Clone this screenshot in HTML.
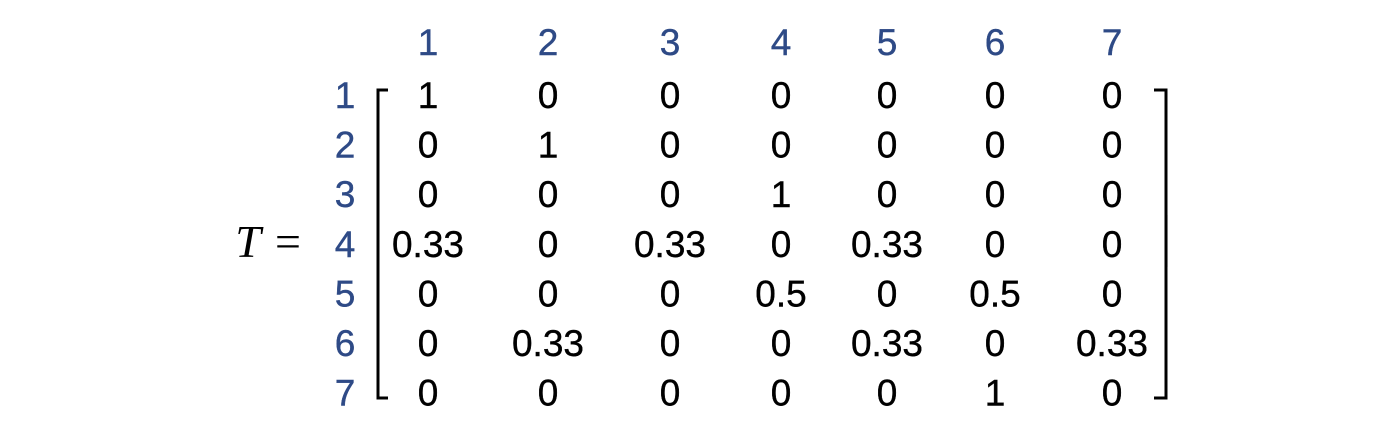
<!DOCTYPE html>
<html><head><meta charset="utf-8"><style>
html,body{margin:0;padding:0;background:#fff;width:1400px;height:440px;overflow:hidden}
svg{display:block}
text{font-family:"Liberation Sans",sans-serif;font-size:37px}
</style></head><body>
<svg id="chart" width="1400" height="440" viewBox="0 0 1400 440" xmlns="http://www.w3.org/2000/svg">
<text x="248" y="257" text-anchor="middle" style="font-family:'Liberation Serif',serif;font-style:italic;font-size:46px">T</text>
<text x="288" y="257" text-anchor="middle" style="font-family:'Liberation Serif',serif;font-size:46px">=</text>
<path d="M388 90 H378 V398 H388" fill="none" stroke="#000" stroke-width="3"/>
<path d="M1154 90 H1166 V398 H1154" fill="none" stroke="#000" stroke-width="3"/>
<line x1="1167.5" y1="215" x2="1167.5" y2="267" stroke="#777" stroke-width="1"/>
<g id="cells" stroke-width="0.4"></g>
</svg>
<script>
const colLabels = ["1","2","3","4","5","6","7"];
const rowLabels = ["1","2","3","4","5","6","7"];
const row1 = ["1","0","0","0","0","0","0"];
const row2 = ["0","1","0","0","0","0","0"];
const row3 = ["0","0","0","1","0","0","0"];
const row4 = ["0.33","0","0.33","0","0.33","0","0"];
const row5 = ["0","0","0","0.5","0","0.5","0"];
const row6 = ["0","0.33","0","0","0.33","0","0.33"];
const row7 = ["0","0","0","0","0","1","0"];
const rows = [row1,row2,row3,row4,row5,row6,row7];

const colX = [428,548,670,781,887,995,1112];
function xPos(i){ return colX[i]; }
function yPos(i){ return 108 + i*49.6; }
const g = document.getElementById('cells');
const NS = "http://www.w3.org/2000/svg";
function mk(x,y,t,fill){
  const el = document.createElementNS(NS,'text');
  el.setAttribute('x',x); el.setAttribute('y',y);
  el.setAttribute('text-anchor','middle');
  el.setAttribute('fill',fill);
  el.setAttribute('stroke',fill);
  el.textContent = t;
  g.appendChild(el);
  return el;
}
colLabels.forEach((c,i)=>{
  const el = mk(xPos(i),55,c,'#2e4a86');
  
  
});
rowLabels.forEach((r,i)=>{
  const el = mk(345,yPos(i),r,'#2e4a86');
  
  
});
rows.forEach((row,i)=>{
  row.forEach((v,j)=>{
    const el = mk(xPos(j),yPos(i),v,'#000');
    
    
  });
});
</script>
</body></html>
